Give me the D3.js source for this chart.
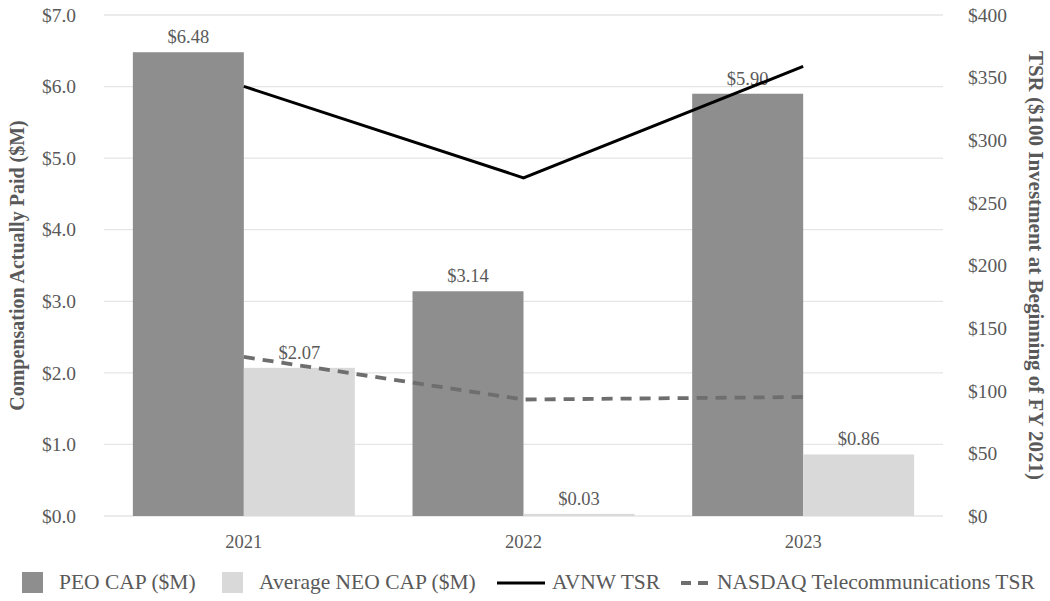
<!doctype html>
<html>
<head>
<meta charset="utf-8" />
<script src="https://d3js.org/d3.v7.min.js"></script>
<style>
  body { margin: 0; background: #fff; }
</style>
</head>
<body>
<div id="chart"></div>
<script type="text/javascript">

// data
var years = ["2021", "2022", "2023"];
var peoCap = [6.48, 3.14, 5.90];
var neoCap = [2.07, 0.03, 0.86];
var avnwTsr = [343, 270, 359];
var nasdaqTsr = [127, 93, 95];
var leftTicks = [0, 1, 2, 3, 4, 5, 6, 7];
var rightTicks = [0, 50, 100, 150, 200, 250, 300, 350, 400];
var barSeries = ["PEO CAP ($M)", "Average NEO CAP ($M)"];
var lineSeries = ["AVNW TSR", "NASDAQ Telecommunications TSR"];

var FONT = "'Liberation Serif'";
var TXT = "#595959";

var width = 1050, height = 601;
var plot = {left: 104, right: 943, top: 15, bottom: 516};

var svg = d3.select("#chart").append("svg")
  .attr("width", width).attr("height", height);

var x = d3.scaleBand().domain(years).range([plot.left, plot.right]).padding(0);
var xInner = d3.scaleBand().domain(barSeries).range([0, x.bandwidth()])
  .paddingInner(0).paddingOuter(0.26);
var yL = d3.scaleLinear().domain([0, 7]).range([plot.bottom, plot.top]);
var yR = d3.scaleLinear().domain([0, 400]).range([plot.bottom, plot.top]);

var colors = {"PEO CAP ($M)": "#8e8e8e", "Average NEO CAP ($M)": "#d9d9d9"};

function styleText(sel, size) {
  sel.style("font-family", FONT).style("font-size", size + "px").style("fill", TXT);
}

// gridlines
svg.append("g").selectAll("line").data(leftTicks).enter().append("line")
  .attr("x1", plot.left).attr("x2", plot.right)
  .attr("y1", d => yL(d)).attr("y2", d => yL(d))
  .attr("stroke", "#e5e5e5").attr("stroke-width", 1.3);

// left axis
var leftAxis = d3.axisLeft(yL).tickValues(leftTicks).tickSize(0).tickPadding(0)
  .tickFormat(d => "$" + d3.format(".1f")(d));
var gl = svg.append("g").attr("transform", "translate(76,0)").call(leftAxis);
gl.attr("font-family", null);
gl.select(".domain").remove();
gl.selectAll("text").call(styleText, 19.5);

// right axis
var rightAxis = d3.axisRight(yR).tickValues(rightTicks).tickSize(0).tickPadding(0)
  .tickFormat(d => "$" + d);
var gr = svg.append("g").attr("transform", "translate(968,0)").call(rightAxis);
gr.attr("font-family", null);
gr.select(".domain").remove();
gr.selectAll("text").call(styleText, 19.5);

// category axis
var bottomAxis = d3.axisBottom(x).tickSize(0).tickPadding(0);
var gb = svg.append("g").attr("transform", "translate(0,535)").call(bottomAxis);
gb.attr("font-family", null);
gb.select(".domain").remove();
gb.selectAll("text").call(styleText, 18.5);

// bars
var barData = [];
years.forEach(function(yr, i) {
  barData.push({year: yr, series: barSeries[0], value: peoCap[i]});
  barData.push({year: yr, series: barSeries[1], value: neoCap[i]});
});

svg.append("g").selectAll("rect").data(barData).enter().append("rect")
  .attr("x", d => x(d.year) + xInner(d.series))
  .attr("width", xInner.bandwidth())
  .attr("y", d => yL(d.value))
  .attr("height", d => yL(0) - yL(d.value))
  .attr("fill", d => colors[d.series]);

// data labels
svg.append("g").selectAll("text").data(barData).enter().append("text")
  .attr("x", d => x(d.year) + xInner(d.series) + xInner.bandwidth() / 2)
  .attr("y", d => yL(d.value) - 9)
  .attr("text-anchor", "middle")
  .call(styleText, 18.5)
  .text(d => "$" + d3.format(".2f")(d.value));

// lines
var line = d3.line().x((d, i) => x(years[i]) + x.bandwidth() / 2).y(d => yR(d));

svg.append("path").datum(nasdaqTsr)
  .attr("d", line).attr("fill", "none")
  .attr("stroke", "#6e6e6e").attr("stroke-width", 3.8)
  .attr("stroke-dasharray", "11,8");

svg.append("path").datum(avnwTsr)
  .attr("d", line).attr("fill", "none")
  .attr("stroke", "#000").attr("stroke-width", 3);

// axis titles
svg.append("text")
  .attr("transform", "translate(24," + (plot.top + plot.bottom) / 2 + ") rotate(-90)")
  .attr("text-anchor", "middle").call(styleText, 20).style("font-weight", "bold")
  .text("Compensation Actually Paid ($M)");

svg.append("text")
  .attr("transform", "translate(1029," + (plot.top + plot.bottom) / 2 + ") rotate(90)")
  .attr("text-anchor", "middle").call(styleText, 21).style("font-weight", "bold")
  .text("TSR ($100 Investment at Beginning of FY 2021)");

// legend
var legendY = 582;
var lg = svg.append("g");
var swatchX = [22, 222];
barSeries.forEach(function(s, i) {
  lg.append("rect").attr("x", swatchX[i]).attr("y", legendY - 10)
    .attr("width", 21).attr("height", 21).attr("fill", colors[s]);
  lg.append("text").attr("x", swatchX[i] + 37).attr("y", legendY + 7)
    .call(styleText, 21.5).text(s);
});
var legendLines = [
  {x: 497, len: 48, c: "#000", w: 3, dash: null, tx: 552},
  {x: 681, len: 27, c: "#6e6e6e", w: 3.8, dash: "10,7", tx: 717}
];
lineSeries.forEach(function(s, i) {
  var o = legendLines[i];
  lg.append("line").attr("x1", o.x).attr("x2", o.x + o.len)
    .attr("y1", legendY + 1).attr("y2", legendY + 1)
    .attr("stroke", o.c).attr("stroke-width", o.w)
    .attr("stroke-dasharray", o.dash);
  lg.append("text").attr("x", o.tx).attr("y", legendY + 7)
    .call(styleText, 21.5).text(s);
});

</script>
</body>
</html>
